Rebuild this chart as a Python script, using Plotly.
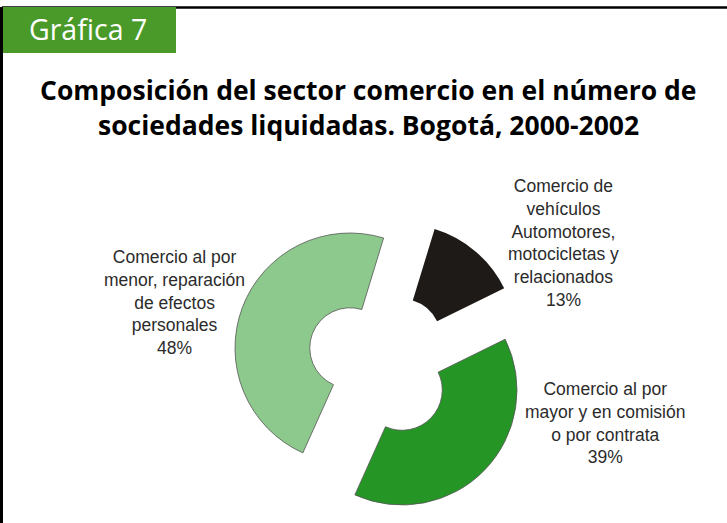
import plotly.graph_objects as go

# Data
labels = ["Comercio de<br>vehículos<br>Automotores,<br>motocicletas y<br>relacionados",
          "Comercio al por<br>mayor y en comisión<br>o por contrata",
          "Comercio al por<br>menor, reparación<br>de efectos<br>personales"]
values = [13, 39, 48]
colors = ["#1e1a17", "#259526", "#8dc98c"]

title_lines = ["Composición del sector comercio en el número de",
               "sociedades liquidadas. Bogotá, 2000-2002"]
tab_text = "Gráfica 7"

W, H = 727, 523


def px(x):
    return x / W


def py(y):
    return 1 - y / H


fig = go.Figure()

# each slice is drawn by its own pie (other slices transparent) so that
# every piece can be pulled away from the centre the way the original is
R = 115
centers = [(401, 339), (402, 390), (350, 348)]
for i, (cx, cy) in enumerate(centers):
    cols = ["rgba(0,0,0,0)"] * len(values)
    cols[i] = colors[i]
    lw = [0] * len(values)
    lw[i] = 0 if i == 0 else 0.8
    fig.add_trace(go.Pie(
        labels=labels, values=values,
        sort=False, direction="clockwise", rotation=17, hole=0.35,
        marker=dict(colors=cols, line=dict(color="#555555", width=lw)),
        textinfo="none", hoverinfo="skip", showlegend=False,
        domain=dict(x=[px(cx - R), px(cx + R)], y=[py(cy + R), py(cy - R)]),
    ))

# slice labels
label_pos = [(563, 243), (605, 423), (174, 302)]
for lab, v, (lx, ly) in zip(labels, values, label_pos):
    fig.add_annotation(
        x=px(lx), y=py(ly), xref="paper", yref="paper",
        xanchor="center", yanchor="middle",
        text=f"{lab}<br>{v}%", showarrow=False, align="center",
        font=dict(family="Liberation Sans, Arial", size=17.5, color="#2b2b2b"),
    )

# title
for line, ty in zip(title_lines, [90, 125]):
    fig.add_annotation(
        x=px(368), y=py(ty), xref="paper", yref="paper",
        xanchor="center", yanchor="middle",
        text=f"<b>{line}</b>", showarrow=False,
        font=dict(family="Open Sans", size=26.5, color="#000000"),
    )

# frame and tab
fig.add_shape(type="line", xref="paper", yref="paper",
              x0=px(2), x1=1, y0=py(7.5), y1=py(7.5),
              line=dict(color="#000000", width=2.5))
fig.add_shape(type="line", xref="paper", yref="paper",
              x0=px(1.5), x1=px(1.5), y0=py(7), y1=0,
              line=dict(color="#000000", width=3))
fig.add_shape(type="rect", xref="paper", yref="paper",
              x0=px(3), x1=px(176), y0=py(53), y1=py(7),
              fillcolor="#4a9a2a", line=dict(width=0))
fig.add_annotation(
    x=px(88), y=py(29), xref="paper", yref="paper",
    xanchor="center", yanchor="middle",
    text=tab_text, showarrow=False,
    font=dict(family="Open Sans", size=28.5, color="#ffffff"),
)

fig.update_layout(
    width=W, height=H,
    margin=dict(l=0, r=0, t=0, b=0),
    paper_bgcolor="#ffffff",
    plot_bgcolor="#ffffff",
)

# drop the default page margin so the figure fills the window
fig.write_html("out.html", config={"displayModeBar": False},
               post_script="document.body.style.margin='0';")
